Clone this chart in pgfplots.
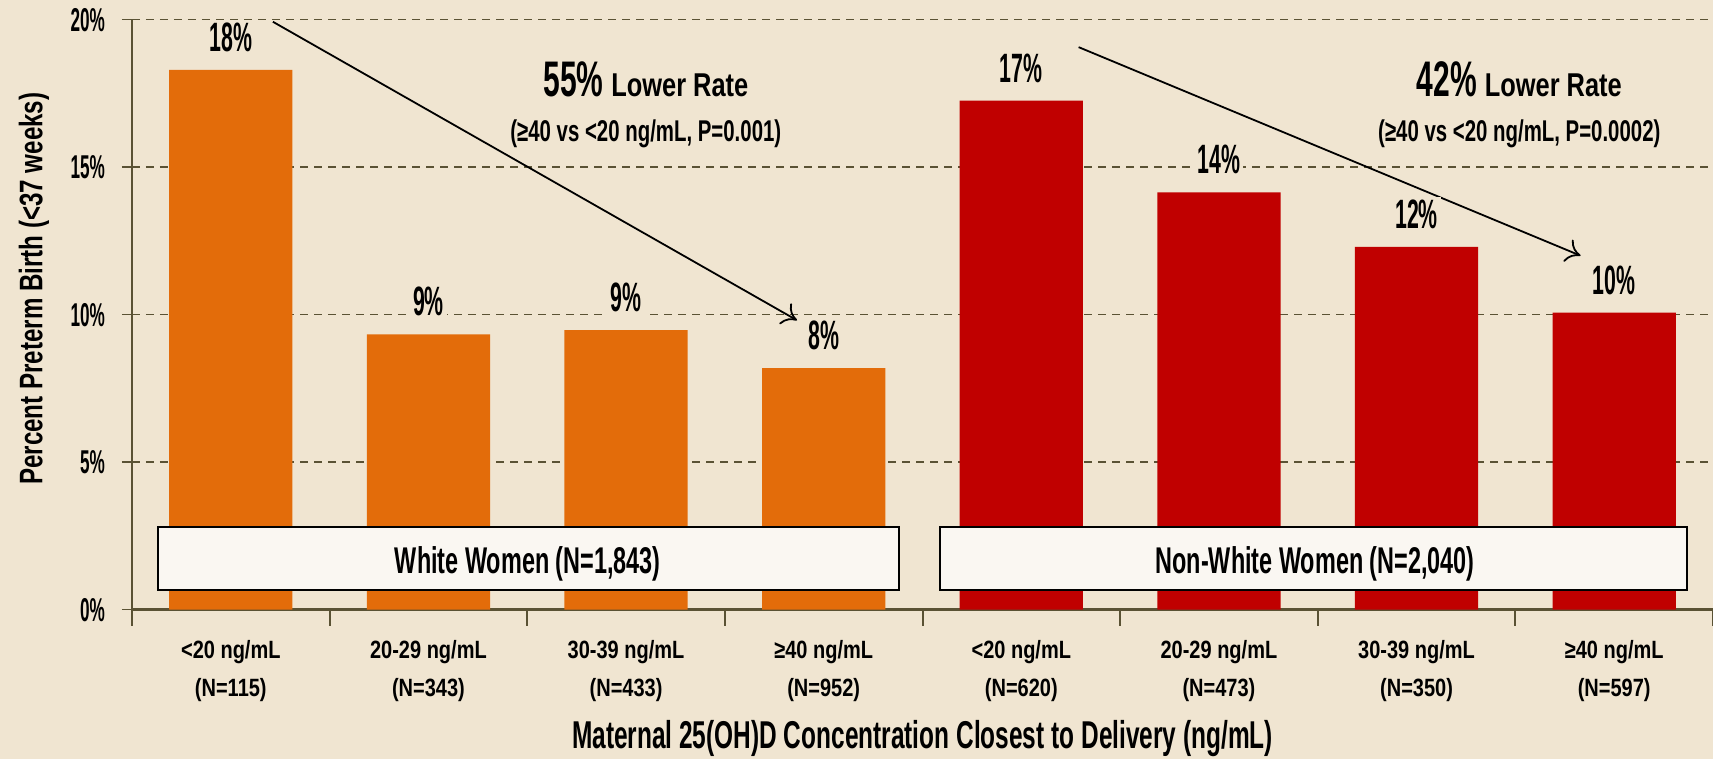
\documentclass[border=0pt]{standalone}
\usepackage{fontspec}
\setmainfont{Liberation Sans}[FakeStretch=0.64]
\newfontfamily\fA{Liberation Sans}[FakeStretch=0.52]
\newfontfamily\fB{Liberation Sans}[FakeStretch=0.63]
\newfontfamily\fBB{Liberation Sans}[FakeStretch=0.6]
\newfontfamily\fS{Liberation Sans}[FakeStretch=0.68]
\newfontfamily\fC{Liberation Sans}[FakeStretch=0.77]
\newfontfamily\fY{Liberation Sans}[FakeStretch=0.74]
\newfontfamily\fD{Liberation Sans}[FakeStretch=0.8]
\usepackage{pgfplots}
\pgfplotsset{compat=1.18}
\usetikzlibrary{arrows.meta}
\definecolor{bg}{HTML}{F0E5D1}
\definecolor{orng}{HTML}{E36C0A}
\definecolor{rd}{HTML}{C00000}
\definecolor{gridc}{HTML}{5A5234}
\definecolor{boxf}{HTML}{FAF7F2}
\newcommand{\fs}[1]{\fontsize{#1}{#1}\selectfont}
\begin{document}
\begin{tikzpicture}
\path[use as bounding box, fill=bg] (-66pt,-74.7pt) rectangle (790.5pt,304.85pt);
\begin{axis}[
  at={(0,0)}, anchor=south west,
  scale only axis, width=790.5pt, height=295pt,
  clip=false,
  xmin=-0.5, xmax=7.5, ymin=0, ymax=20,
  ytick={0,5,10,15,20},
  yticklabel={\pgfmathprintnumber{\tick}\%},
  /pgf/number format/assume math mode=true,
  yticklabel style={font=\fA\bfseries\fs{16.5}, xshift=-5pt},
  ymajorgrids,
  grid style={gridc, dash pattern=on 4pt off 3pt, line width=0.8pt},
  axis x line*=bottom, axis y line*=left,
  x axis line style={gridc, line width=1.5pt, -},
  y axis line style={gridc, line width=1pt, -},
  xtick={0,...,7},
  major x tick style={draw=none},
  major y tick style={gridc, line width=0.8pt},
  major tick length=5pt,
  minor xtick={-0.5,0.5,...,7.5},
  minor x tick style={gridc, line width=1pt},
  minor tick length=8pt,
  tick align=outside,
  xticklabels={{<20 ng/mL\\(N=115)},{20-29 ng/mL\\(N=343)},{30-39 ng/mL\\(N=433)},{≥40 ng/mL\\(N=952)},
               {<20 ng/mL\\(N=620)},{20-29 ng/mL\\(N=473)},{30-39 ng/mL\\(N=350)},{≥40 ng/mL\\(N=597)}},
  xticklabel style={font=\fD\bfseries\fontsize{12.5}{18.8}\selectfont, align=center, anchor=north, yshift=-7pt},
  xlabel={Maternal 25(OH)D Concentration Closest to Delivery (ng/mL)},
  xlabel style={at={(axis description cs:0.5,-0.2186)}, anchor=center, font=\fB\bfseries\fs{19.4}},
  ylabel={Percent Preterm Birth (<37 weeks)},
  ylabel style={at={(axis description cs:-0.062,0.544)}, anchor=center, font=\fY\bfseries\fs{16.3}},
  nodes near coords={\pgfmathprintnumber[fixed,precision=0]{\pgfplotspointmeta}\%},
  nodes near coords style={anchor=center, yshift=16.3pt, fill=bg, inner sep=1.5pt, font=\fA\bfseries\fs{20.5}, text=black},
]
\addplot[ybar, bar width=0.624, bar shift=0pt, fill=orng, draw=none]
  coordinates {(0,18.3) (1,9.33) (2,9.48) (3,8.19)};
\addplot[ybar, bar width=0.624, bar shift=0pt, fill=rd, draw=none]
  coordinates {(4,17.26) (5,14.15) (6,12.3) (7,10.07)};

\draw[black, line width=1pt, fill=boxf] (axis cs:-0.367,0.67) rectangle (axis cs:3.38,2.81);
\node[font=\fB\bfseries\fs{18.6}, anchor=base] at (axis cs:1.503,1.23) {White Women (N=1,843)};
\draw[black, line width=1pt, fill=boxf] (axis cs:3.59,0.67) rectangle (axis cs:7.37,2.81);
\node[font=\fB\bfseries\fs{18.6}, anchor=base] at (axis cs:5.487,1.23) {Non-White Women (N=2,040)};

\draw[-{To[length=7pt,width=12pt]}, line width=0.9pt] (axis cs:0.213,19.93) -- (axis cs:2.865,9.81);
\draw[-{To[length=7pt,width=12pt]}, line width=0.9pt] (axis cs:4.29,19.07) -- (axis cs:6.83,12.0);

\node[anchor=base, font=\bfseries] at (axis cs:2.10,17.39) {{\fBB\fs{25}55\%}\hspace{4pt}{\fC\fs{16.5}Lower Rate}};
\node[anchor=base, font=\fS\bfseries\fs{15}] at (axis cs:2.10,15.86) {(≥40 vs <20 ng/mL, P=0.001)};
\node[anchor=base, font=\bfseries] at (axis cs:6.52,17.39) {{\fBB\fs{25}42\%}\hspace{4pt}{\fC\fs{16.5}Lower Rate}};
\node[anchor=base, font=\fS\bfseries\fs{15}] at (axis cs:6.52,15.86) {(≥40 vs <20 ng/mL, P=0.0002)};
\end{axis}
\end{tikzpicture}
\end{document}
